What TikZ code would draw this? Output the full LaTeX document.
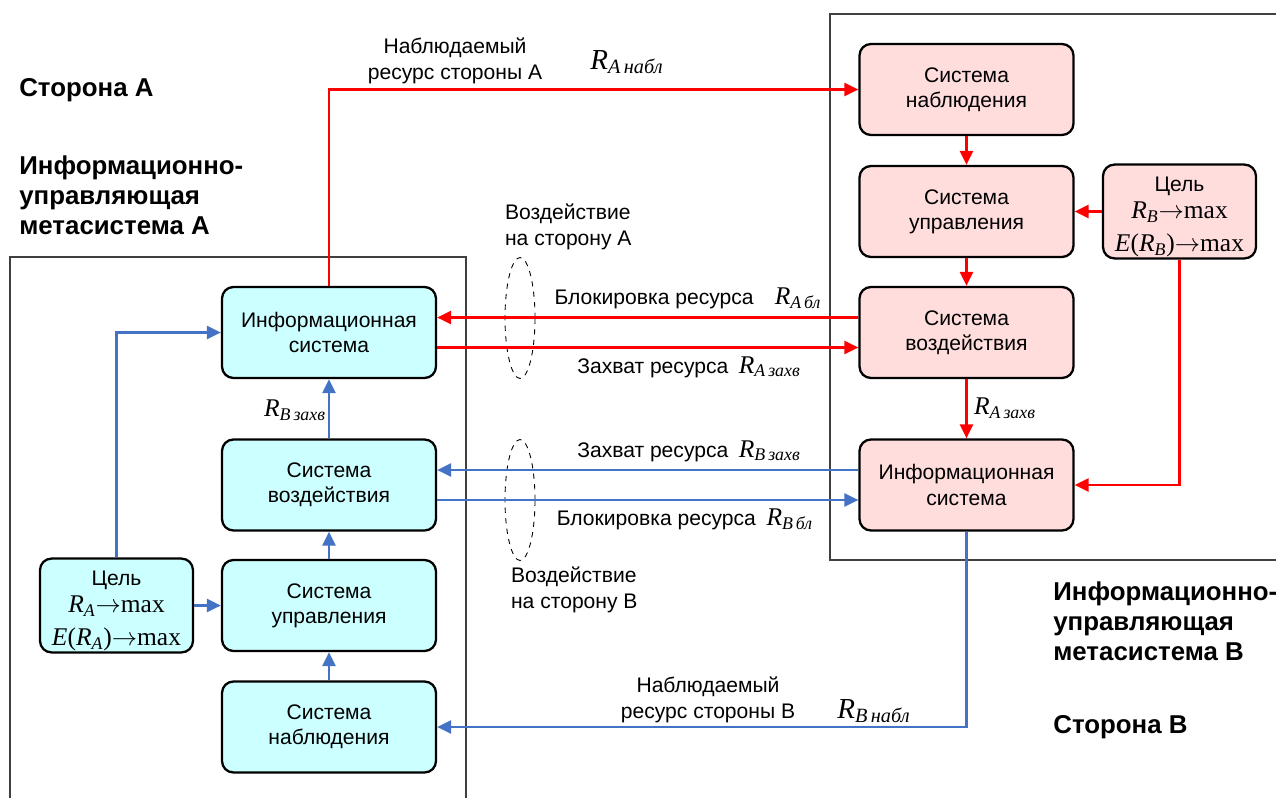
\documentclass[tikz,border=0pt]{standalone}
\usepackage{fontspec}
\setmainfont{Liberation Sans}
\newfontfamily\tms{Liberation Serif}
\usepackage{tikz}
\usetikzlibrary{arrows.meta, shapes.geometric}
\definecolor{sideafill}{RGB}{204, 255, 255}
\definecolor{sidebfill}{RGB}{255, 221, 221}
\definecolor{flowred}{RGB}{255, 0, 0}
\definecolor{flowblue}{RGB}{68, 114, 196}
% resource symbol R with subscript
\newcommand{\Rres}[2]{{\tms\itshape R\textsubscript{#1\,#2}}}
\newcommand{\mathfont}{\tms\fontsize{14.5}{16}\selectfont}

\begin{document}
\begin{tikzpicture}[
        x=0.02cm, y=-0.02cm,
        sysbox/.style={draw, line width=1.3pt, rounded corners=6.5pt,
                    minimum width=4.28cm, minimum height=1.82cm,
                    align=center, font=\fontsize{12}{14.4}\selectfont},
        goalbox/.style={sysbox, minimum width=3.06cm, inner sep=1pt},
        frame/.style={draw=black!75, line width=0.6pt},
        flow/.style={line width=1.3pt, -{Triangle[length=8pt, width=7.5pt]}},
        lbl/.style={font=\fontsize{12}{14.4}\selectfont, align=center, inner sep=1pt},
        title/.style={font=\fontsize{14.7}{17}\selectfont\bfseries, align=left, anchor=west, inner sep=0pt},
        zone/.style={draw, dashed, ellipse, line width=0.5pt, minimum width=0.6cm, minimum height=2.42cm, inner sep=0pt},
      ]
        \useasboundingbox (0,0) rectangle (1276,798);

        % metasystem frames
        \draw[frame] (10,257) rectangle (466,820);
        \draw[frame] (830,14) rectangle (1300,560);

        % side A
        \node[sysbox, fill=sideafill] (infoA) at (329,332.5) {Информационная\\система};
        \node[sysbox, fill=sideafill] (vozdA) at (329,485) {Система\\воздействия};
        \node[sysbox, fill=sideafill] (uprA) at (329,605.5) {Система\\управления};
        \node[sysbox, fill=sideafill] (obsA) at (329,727) {Система\\наблюдения};
        \node[goalbox, fill=sideafill] (goalA) at (116.5,605.5)
          {\rule{0pt}{14.5pt}Цель\\[1pt]
           {\mathfont\itshape R\textsubscript{A}$\rightarrow$\upshape max}\\[4pt]
           {\mathfont\itshape E\upshape(\itshape R\textsubscript{A}\upshape)$\rightarrow$max}};

        % side B
        \node[sysbox, fill=sidebfill] (obsB) at (966.5,89.5) {Система\\наблюдения};
        \node[sysbox, fill=sidebfill] (uprB) at (966.5,211.5) {Система\\управления};
        \node[sysbox, fill=sidebfill] (vozdB) at (966.5,332.5) {Система\\воздействия};
        \node[sysbox, fill=sidebfill] (infoB) at (966.5,485) {Информационная\\система};
        \node[goalbox, fill=sidebfill] (goalB) at (1179.5,211.5)
          {\rule{0pt}{14.5pt}Цель\\[1pt]
           {\mathfont\itshape R\textsubscript{B}$\rightarrow$\upshape max}\\[4pt]
           {\mathfont\itshape E\upshape(\itshape R\textsubscript{B}\upshape)$\rightarrow$max}};

        % impact zones
        \node[zone] (zoneA) at (520,318) {};
        \node[zone] (zoneB) at (520,500) {};

        % red flows
        \draw[flow, flowred] (infoA.north) |- (obsB.west);
        \draw[flow, flowred] (obsB) -- (uprB);
        \draw[flow, flowred] (uprB) -- (vozdB);
        \draw[flow, flowred] (vozdB) -- (infoB);
        \draw[flow, flowred] (goalB) -- (uprB);
        \draw[flow, flowred] (goalB.south) |- (infoB.east);
        \draw[flow, flowred] ([yshift=0.3cm]vozdB.west) -- ([yshift=0.3cm]infoA.east);
        \draw[flow, flowred] ([yshift=-0.3cm]infoA.east) -- ([yshift=-0.3cm]vozdB.west);

        % blue flows
        \draw[flow, flowblue] (infoB.south) |- (obsA.east);
        \draw[flow, flowblue] (obsA) -- (uprA);
        \draw[flow, flowblue] (uprA) -- (vozdA);
        \draw[flow, flowblue] (vozdA) -- (infoA);
        \draw[flow, flowblue] (goalA) -- (uprA);
        \draw[flow, flowblue] (goalA.north) |- (infoA.west);
        \draw[flow, flowblue] ([yshift=0.3cm]infoB.west) -- ([yshift=0.3cm]vozdA.east);
        \draw[flow, flowblue] ([yshift=-0.3cm]vozdA.east) -- ([yshift=-0.3cm]infoB.west);

        % flow labels
        \node[lbl] (obsAtxt) at (455,61) {Наблюдаемый\\ресурс стороны А};
        \node[lbl] (obsAsym) at (627,62) {{\tms\fontsize{16.5}{17}\selectfont\itshape R\textsubscript{A\,набл}}};
        \node[lbl] (blkAtxt) at (688,298) {Блокировка ресурса\quad{\mathfont\Rres{A}{бл}}};
        \node[lbl] (capAtxt) at (689,367) {Захват ресурса\enspace{\mathfont\Rres{A}{захв}}};
        \node[lbl] (capAsym) at (1005,408) {{\mathfont\Rres{A}{захв}}};
        \node[lbl] (capBsym) at (295,410) {{\mathfont\Rres{B}{захв}}};
        \node[lbl] (capBtxt) at (689,451) {Захват ресурса\enspace{\mathfont\Rres{B}{захв}}};
        \node[lbl] (blkBtxt) at (685,519) {Блокировка ресурса\enspace{\mathfont\Rres{B}{бл}}};
        \node[lbl] (obsBtxt) at (708,700) {Наблюдаемый\\ресурс стороны В};
        \node[lbl] (obsBsym) at (874,711) {{\tms\fontsize{16.5}{17}\selectfont\itshape R\textsubscript{B\,набл}}};
        \node[lbl, anchor=west, align=left] (zoneAtxt) at (503,227) {Воздействие\\на сторону А};
        \node[lbl, anchor=west, align=left] (zoneBtxt) at (509,590) {Воздействие\\на сторону В};

        % side titles
        \node[title] (sideA) at (19,90) {Сторона А};
        \node[title] (metaA) at (19,195) {Информационно-\\управляющая\\метасистема А};
        \node[title] (metaB) at (1053,621) {Информационно-\\управляющая\\метасистема В};
        \node[title] (sideB) at (1053,727) {Сторона В};
      \end{tikzpicture}
\end{document}
